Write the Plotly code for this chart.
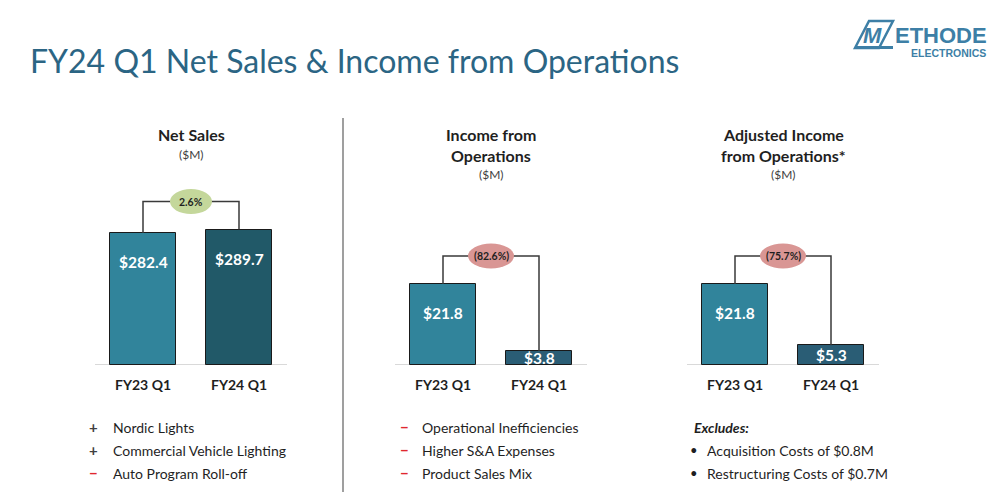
import plotly.graph_objects as go

# ---------------- data ----------------
categories = ["FY23 Q1", "FY24 Q1"]
net_sales = [282.4, 289.7]
income_ops = [21.8, 3.8]
adj_income_ops = [21.8, 5.3]
pct_changes = ["2.6%", "(82.6%)", "(75.7%)"]
chart_titles = [["Net Sales"], ["Income from", "Operations"], ["Adjusted Income", "from Operations*"]]
unit_label = "($M)"
bullets_net = ["Nordic Lights", "Commercial Vehicle Lighting", "Auto Program Roll-off"]
bullets_net_sign = ["+", "+", "−"]
bullets_ops = ["Operational Inefficiencies", "Higher S&A Expenses", "Product Sales Mix"]
bullets_adj_head = "Excludes:"
bullets_adj = ["Acquisition Costs of $0.8M", "Restructuring Costs of $0.7M"]
main_title = "FY24 Q1 Net Sales & Income from Operations"

# ---------------- style ----------------
W, H = 1000, 492
FONT = "Lato"
C_TITLE = "#2B6584"
C_FY23 = "#31849B"
C_FY24_A = "#215968"
C_FY24_B = "#2A5D75"
C_GREEN = "#C4D79B"
C_RED = "#D99694"
TXT = "#1F1F1F"

base_px = 365        # baseline pixel row
top_px = 120         # top of plot area
plot_h = base_px - top_px
ppu = [0.4675, 3.716, 3.716]   # pixels per unit for each panel
x_doms = [(95, 287), (395, 587), (687, 879)]
series = [net_sales, income_ops, adj_income_ops]
fy24_colors = [C_FY24_A, C_FY24_B, C_FY24_B]
ell_colors = [C_GREEN, C_RED, C_RED]
ell_w = [42, 46, 46]


def py(px):
    return 1 - px / H


def txt(x, y, text, size, color=TXT, xanchor="center", xref="paper", family=FONT, **kw):
    return dict(xref=xref, yref="paper", x=x, y=py(y), xanchor=xanchor, yanchor="middle",
                text=text, showarrow=False, font=dict(family=family, size=size, color=color), **kw)


fig = go.Figure()
shapes = []
annotations = []

for i in range(3):
    xa = "x" if i == 0 else f"x{i+1}"
    ya = "y" if i == 0 else f"y{i+1}"
    vals = series[i]
    fig.add_trace(go.Bar(
        x=[0, 1], y=vals, width=0.68,
        marker=dict(color=[C_FY23, fy24_colors[i]], line=dict(color="#1a1a1a", width=1)),
        xaxis=xa, yaxis=ya, hoverinfo="skip", showlegend=False))
    ymax = plot_h / ppu[i]
    lay_x = "xaxis" if i == 0 else f"xaxis{i+1}"
    lay_y = "yaxis" if i == 0 else f"yaxis{i+1}"
    fig.layout[lay_x] = dict(domain=[x_doms[i][0] / W, x_doms[i][1] / W], range=[-0.5, 1.5],
                             showgrid=False, zeroline=False, showticklabels=False, showline=False,
                             fixedrange=True, anchor=ya)
    fig.layout[lay_y] = dict(domain=[py(base_px), py(top_px)], range=[0, ymax],
                             showgrid=False, zeroline=False, showticklabels=False, showline=False,
                             fixedrange=True, anchor=xa)
    # baseline
    shapes.append(dict(type="line", xref=f"{xa} domain", yref=ya, x0=0, x1=1, y0=0, y1=0,
                       line=dict(color="#D9D9D9", width=2), layer="below"))
    # bracket
    level = max(vals) + 28 / ppu[i]
    shapes.append(dict(type="path", xref=xa, yref=ya,
                       path=f"M 0,{vals[0]} L 0,{level} L 1,{level} L 1,{vals[1]}",
                       line=dict(color="#3a3a3a", width=1.5)))
    # ellipse
    shapes.append(dict(type="circle", xref=xa, yref=ya, xsizemode="pixel", ysizemode="pixel",
                       xanchor=0.5, yanchor=level, x0=-ell_w[i] / 2, x1=ell_w[i] / 2, y0=-12.5, y1=12.5,
                       fillcolor=ell_colors[i], line=dict(width=0)))
    annotations.append(dict(xref=xa, yref=ya, x=0.5, y=level, xanchor="center", yanchor="middle",
                            text=f"<b>{pct_changes[i]}</b>",
                            showarrow=False, font=dict(family=FONT, size=10.5, color=TXT)))
    # value labels
    for j, v in enumerate(vals):
        bar_px = v * ppu[i]
        shift = -min(29, bar_px / 2)
        annotations.append(dict(xref=xa, yref=ya, x=j, y=v, yshift=shift, xanchor="center",
                                yanchor="middle", text=f"<b>${v:.1f}</b>", showarrow=False,
                                font=dict(family=FONT, size=15.5, color="white")))
    # category labels
    for j, c in enumerate(categories):
        annotations.append(txt(j, 384, f"<b>{c}</b>", 14, xref=xa))
    # chart title
    cx = (x_doms[i][0] + x_doms[i][1]) / 2 / W
    for k, line in enumerate(chart_titles[i]):
        annotations.append(txt(cx, 134 + 21 * k, f"<b>{line}</b>", 16))
    sub_y = 154 if len(chart_titles[i]) == 1 else 174
    annotations.append(txt(cx, sub_y, unit_label, 12, color="#404040"))

# bullet lists
rows = [427, 450, 473]
for k, t in enumerate(bullets_net):
    sign_col = "#404040" if bullets_net_sign[k] == "+" else "#E0282E"
    annotations.append(txt(93 / W, rows[k], f"<b>{bullets_net_sign[k]}</b>", 15, color=sign_col))
    annotations.append(txt(111 / W, rows[k], t, 14, xanchor="left"))
for k, t in enumerate(bullets_ops):
    annotations.append(txt(404 / W, rows[k], "<b>−</b>", 15, color="#E0282E"))
    annotations.append(txt(420 / W, rows[k], t, 14, xanchor="left"))
annotations.append(txt(692 / W, rows[0], f"<b><i>{bullets_adj_head}</i></b>", 14, xanchor="left"))
for k, t in enumerate(bullets_adj):
    annotations.append(txt(694 / W, rows[k + 1], "•", 13))
    annotations.append(txt(705 / W, rows[k + 1], t, 14, xanchor="left"))

# main title
annotations.append(txt(28 / W, 60, main_title, 32, color=C_TITLE, xanchor="left"))

# divider
shapes.append(dict(type="line", xref="paper", yref="paper", x0=343 / W, x1=343 / W,
                   y0=0, y1=py(118), line=dict(color="#7F7F7F", width=1.5)))

# logo
LOGO = "#3D7FA6"
shapes.append(dict(type="path", xref="paper", yref="paper",
                   path=(f"M {855/W},{py(48)} L {869/W},{py(21)} L {893/W},{py(21)} "
                         f"L {879/W},{py(48)} Z"),
                   fillcolor="rgba(0,0,0,0)", line=dict(color=LOGO, width=2.5)))
shapes.append(dict(type="rect", xref="paper", yref="paper",
                   x0=855 / W, x1=893 / W, y0=py(49), y1=py(46), fillcolor=LOGO, line=dict(width=0)))
annotations.append(txt(872 / W, 35, "<b><i>M</i></b>", 22, color=LOGO, family="Liberation Sans"))
annotations.append(txt(893 / W, 35, "<b>ETHODE</b>", 22, color=LOGO, xanchor="left",
                       family="Liberation Sans"))
annotations.append(txt(988 / W, 53, "<b>ELECTRONICS</b>", 10.5, color=LOGO, xanchor="right",
                       family="Liberation Sans"))

fig.update_layout(width=W, height=H, margin=dict(l=0, r=0, t=0, b=0),
                  paper_bgcolor="white", plot_bgcolor="rgba(0,0,0,0)",
                  shapes=shapes, annotations=annotations, bargap=0)

fig.write_html("out.html", config={"displayModeBar": False})
